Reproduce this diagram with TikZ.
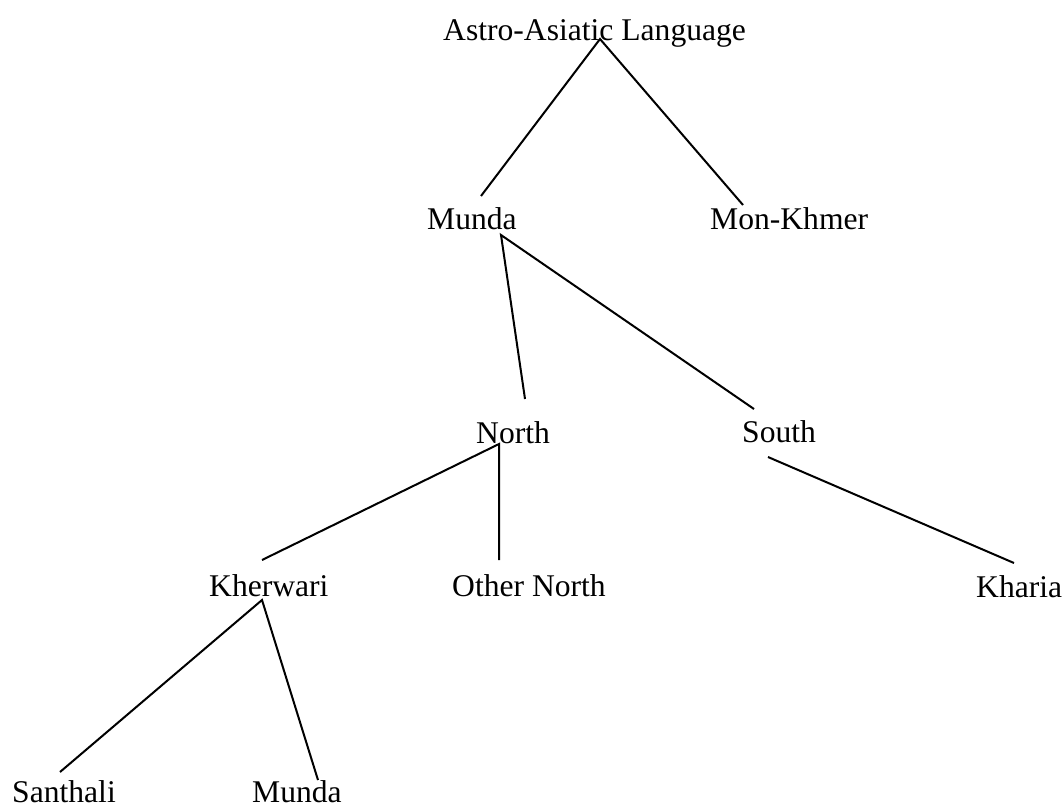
\documentclass[tikz,border=0pt]{standalone}
\usepackage{fontspec}
\setmainfont{Liberation Serif}
\begin{document}
\begin{tikzpicture}[x=1pt,y=-1pt,
  lbl/.style={anchor=base west,inner sep=0pt,font=\fontsize{31.6}{38}\selectfont},
  edge/.style={line width=2pt,black}]
\useasboundingbox (0,0) rectangle (1064,809);
% labels
\node[lbl] (astro) at (443,40) {Astro-Asiatic Language};
\node[lbl] (munda) at (427,229) {Munda};
\node[lbl] (monkhmer) at (710,229) {Mon-Khmer};
\node[lbl] (north) at (476,443) {North};
\node[lbl] (south) at (742,442) {South};
\node[lbl] (kherwari) at (209,596) {Kherwari};
\node[lbl] (othernorth) at (452,596) {Other North};
\node[lbl] (kharia) at (976,597) {Kharia};
\node[lbl] (santhali) at (12,802) {Santhali};
\node[lbl] (mundab) at (252,802) {Munda};
% connector end points
\coordinate (astroB) at (600,39);
\coordinate (mundaT) at (481,196);
\coordinate (monkhmerT) at (743,205);
\coordinate (mundaB) at (501,235);
\coordinate (northT) at (525,399);
\coordinate (southT) at (754,409);
\coordinate (northB) at (499,444);
\coordinate (kherwariT) at (262,560);
\coordinate (othernorthT) at (499,560);
\coordinate (southB) at (768,457);
\coordinate (khariaT) at (1014,563);
\coordinate (kherwariB) at (262,600);
\coordinate (santhaliT) at (60,772);
\coordinate (mundabT) at (318,780);
% connectors
\draw[edge] (mundaT) -- (astroB) -- (monkhmerT);
\draw[edge] (northT) -- (mundaB) -- (southT);
\draw[edge] (kherwariT) -- (northB) -- (othernorthT);
\draw[edge] (southB) -- (khariaT);
\draw[edge] (santhaliT) -- (kherwariB) -- (mundabT);
\end{tikzpicture}
\end{document}
